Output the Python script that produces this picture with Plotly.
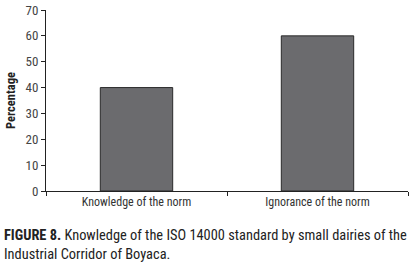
import plotly.graph_objects as go

categories = ["Knowledge of the norm", "Ignorance of the norm"]
values = [40, 60]
y_ticks = [0, 10, 20, 30, 40, 50, 60, 70]

FONT = "Roboto Condensed, Liberation Sans Narrow, Roboto, sans-serif"

fig = go.Figure(go.Bar(
    x=categories, y=values,
    marker=dict(color="#6b6b6e", line=dict(color="#2a2a2a", width=1)),
    width=0.4,
))

W, H = 415, 263
ml, mr, mt, mb = 46, 7, 10, 72
plot_w = W - ml - mr
plot_h = H - mt - mb

fig.update_layout(
    width=W, height=H,
    margin=dict(l=ml, r=mr, t=mt, b=mb, autoexpand=False),
    paper_bgcolor="white", plot_bgcolor="white",
    showlegend=False,
    font=dict(family=FONT, size=12, color="#333333"),
)
fig.update_xaxes(
    range=[-0.5, 1.5], showline=True, linecolor="#222222", linewidth=1,
    ticks="outside", ticklen=4, tickcolor="#222222", tickson="boundaries",
    showgrid=False, automargin=False,
    tickfont=dict(family=FONT, size=12, color="#333333"),
)
fig.update_yaxes(
    range=[0, 70], tickvals=y_ticks, showline=True, linecolor="#222222", linewidth=1,
    ticks="outside", ticklen=4, tickcolor="#222222", showgrid=False, zeroline=False,
    automargin=False, ticklabeloverflow="allow",
    tickfont=dict(family=FONT, size=13, color="#444444"),
    title=dict(text="<b>Percentage</b>",
               font=dict(family=FONT, size=12.5, color="#222222"),
               standoff=7),
)
fig.add_annotation(
    xref="paper", yref="paper",
    x=-(ml - 2) / plot_w, xanchor="left",
    y=-(225 - (H - mb)) / plot_h, yanchor="top",
    align="left", showarrow=False,
    text="<b>FIGURE 8.</b> Knowledge of the ISO 14000 standard by small dairies of the<br>Industrial Corridor of Boyaca.",
    font=dict(family=FONT, size=14.4, color="#222222"),
)
fig.write_html("out.html", config={"displayModeBar": False},
               post_script="document.body.style.margin='0';")
